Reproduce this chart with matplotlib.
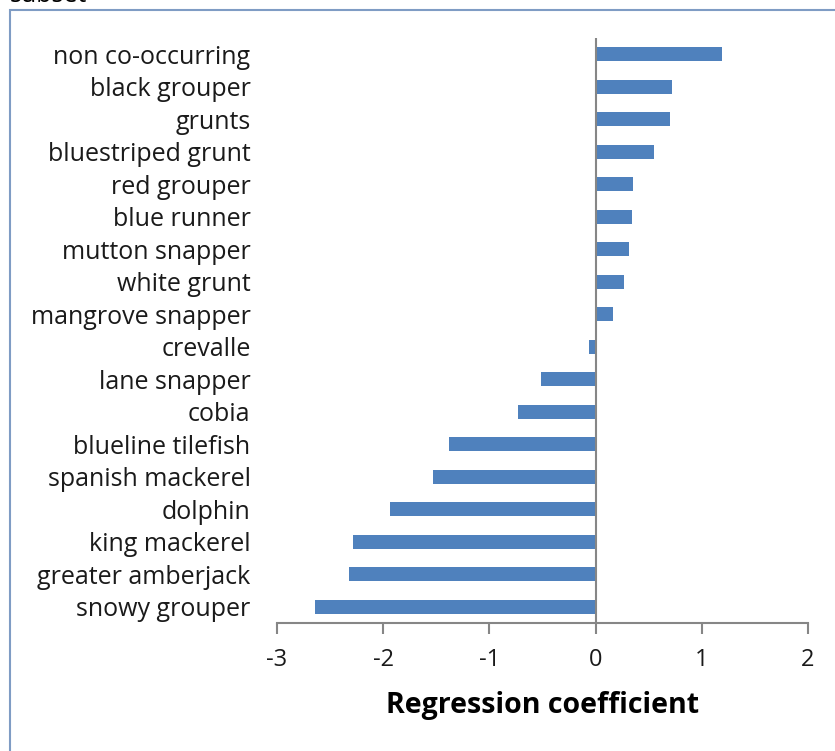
import matplotlib
matplotlib.use("Agg")
import matplotlib.pyplot as plt
from matplotlib.patches import Rectangle
import numpy as np

species = ["snowy grouper", "greater amberjack", "king mackerel", "dolphin",
           "spanish mackerel", "blueline tilefish", "cobia", "lane snapper",
           "crevalle", "mangrove snapper", "white grunt", "mutton snapper",
           "blue runner", "red grouper", "bluestriped grunt", "grunts",
           "black grouper", "non co-occurring"]
coefs = [-2.64, -2.32, -2.28, -1.94, -1.53, -1.38, -0.73, -0.51,
         -0.06, 0.165, 0.27, 0.31, 0.34, 0.35, 0.55, 0.705, 0.715, 1.19]
xticks = [-3, -2, -1, 0, 1, 2]

plt.rcParams['font.family'] = ['Open Sans', 'DejaVu Sans']

fig = plt.figure(figsize=(8.35, 7.51), dpi=100)
ax = fig.add_axes([0.3317, 0.1704, 0.636, 0.779])

pos = np.arange(len(species))
ax.barh(pos, coefs, height=0.42, color='#4f81bd', zorder=2)

ax.set_xlim(-3, 2)
ax.set_ylim(-0.5, len(species) - 0.5)
ax.set_xticks(xticks)
ax.set_xticklabels([str(t) for t in xticks], fontsize=17, color='#1a1a1a')
ax.set_yticks(pos)
ax.set_yticklabels(species, fontsize=18, color='#1a1a1a')
ax.tick_params(axis='y', length=0, pad=19)
ax.tick_params(axis='x', length=8, width=1.5, color='#868686', direction='out', pad=10)

for s in ['top', 'right', 'left']:
    ax.spines[s].set_visible(False)
ax.spines['bottom'].set_color('#868686')
ax.spines['bottom'].set_linewidth(1.5)
ax.axvline(0, color='#868686', lw=1.5, zorder=3)

ax.set_xlabel("Regression coefficient", fontsize=20.5, fontweight='bold', labelpad=14)

# frame around the chart
fig.patches.append(Rectangle((10 / 835, -0.1), 1.2, 1 - 10 / 751 + 0.1,
                             transform=fig.transFigure, fill=False,
                             edgecolor='#7f9cc4', lw=1.5))
fig.text(0.012, 1.006, "subset", fontsize=18, va='center', ha='left')

fig.savefig("out.png", dpi=100)
